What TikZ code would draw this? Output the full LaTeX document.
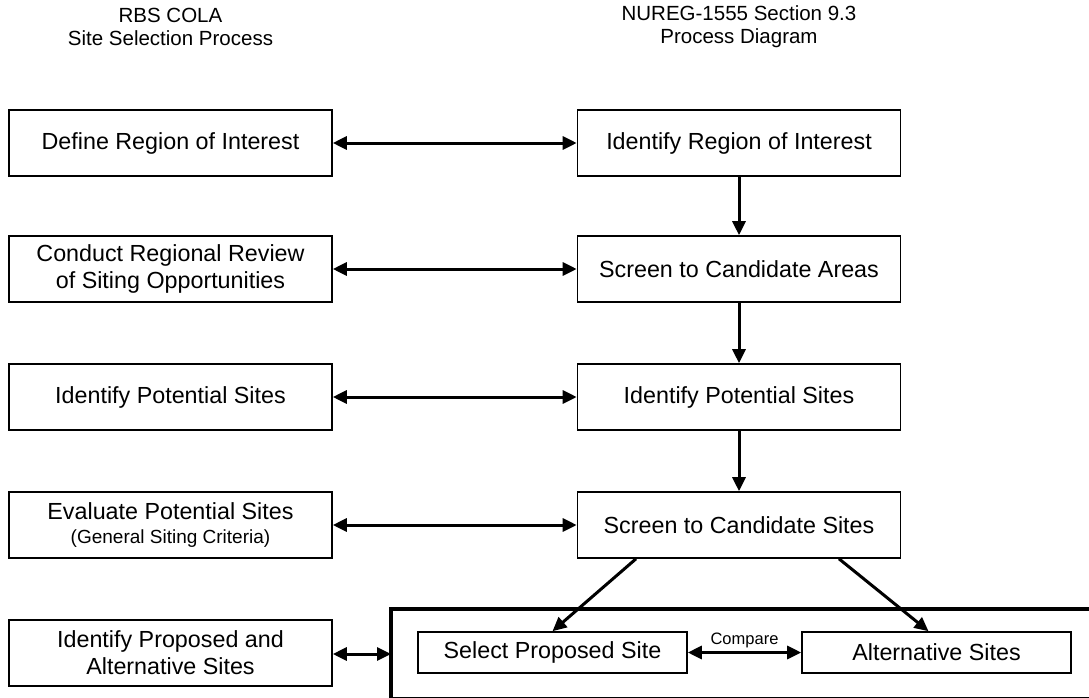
\documentclass[tikz,border=0pt]{standalone}
\usepackage{fontspec}
\setmainfont{Liberation Sans}
\usetikzlibrary{arrows.meta}

\begin{document}
\begin{tikzpicture}[x=1pt, y=-1pt,
    procbox/.style={draw, rectangle, line width=1.6pt, minimum width=323pt, minimum height=66pt, inner sep=0pt, align=center, font=\fontsize{23.3}{27}\selectfont},
    sitebox/.style={procbox, minimum width=269pt, minimum height=41pt},
    heading/.style={align=center, font=\fontsize{20.5}{23}\selectfont},
    arr/.style={-{Triangle[length=14pt,width=13pt]}, line width=3pt},
    dblarr/.style={{Triangle[length=14pt,width=13pt]}-{Triangle[length=14pt,width=13pt]}, line width=3pt}]
    \useasboundingbox (0,0) rectangle (1089,698);

    \node[heading] (lefthead) at (170.5,27) {RBS COLA\\Site Selection Process};
    \node[heading] (righthead) at (739,27) {NUREG-1555 Section 9.3\\Process Diagram};

    \node[procbox] (defreg) at (170.5,143) {Define Region of Interest};
    \node[procbox] (regreview) at (170.5,269) {Conduct Regional Review\\of Siting Opportunities};
    \node[procbox] (potsites) at (170.5,397) {Identify Potential Sites};
    \node[procbox] (evalsites) at (170.5,525) {Evaluate Potential Sites\\[-3pt]{\fontsize{19}{22}\selectfont(General Siting Criteria)}};
    \node[procbox] (propalt) at (170.5,653) {Identify Proposed and\\Alternative Sites};

    \node[procbox] (identreg) at (739,143) {Identify Region of Interest};
    \node[procbox] (candareas) at (739,269) {Screen to Candidate Areas};
    \node[procbox] (identsites) at (739,397) {Identify Potential Sites};
    \node[procbox] (candsites) at (739,525) {Screen to Candidate Sites};

    \begin{scope}
        \clip (0,0) rectangle (1089,698);
        \draw[line width=3.5pt] (391,609) rectangle (1100,698.8);
    \end{scope}
    \coordinate (frameedge) at (391,654);

    \node[sitebox] (propsite) at (552.5,652.5) {Select Proposed Site};
    \node[sitebox] (altsites) at (936.5,652.5) {Alternative Sites};

    \draw[dblarr] (defreg) -- (identreg);
    \draw[dblarr] (regreview) -- (candareas);
    \draw[dblarr] (potsites) -- (identsites);
    \draw[dblarr] (evalsites) -- (candsites);
    \draw[dblarr] (propalt.east |- frameedge) -- (frameedge);

    \draw[arr] (identreg) -- (candareas);
    \draw[arr] (candareas) -- (identsites);
    \draw[arr] (identsites) -- (candsites);
    \draw[arr] ([xshift=-103pt]candsites.south) -- (propsite.north);
    \draw[arr] ([xshift=100pt]candsites.south) -- ([xshift=-8pt]altsites.north);
    \draw[dblarr] (propsite) -- node[above, font=\fontsize{16.5}{18}\selectfont] {Compare} (altsites);
\end{tikzpicture}
\end{document}
